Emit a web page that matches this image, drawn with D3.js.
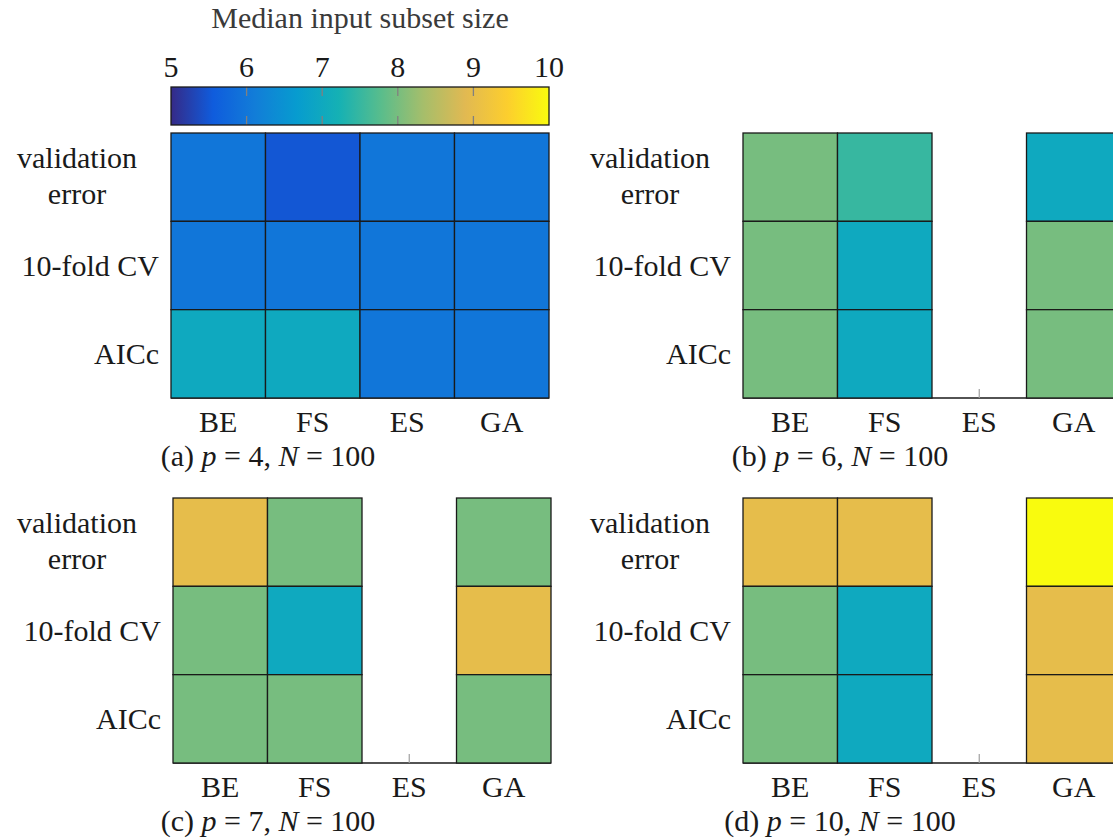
<!DOCTYPE html>
<html>
<head>
<meta charset="utf-8">
<script src="https://cdn.jsdelivr.net/npm/d3@7"></script>
<style>
  html, body { margin: 0; padding: 0; background: #fff; }
</style>
</head>
<body>
<svg id="chart" width="1113" height="840"></svg>
<script>
// Selection methods (columns) and model-selection criteria (rows)
const methods = ["BE", "FS", "ES", "GA"];
const criteria = ["validation error", "10-fold CV", "AICc"];

// Median input subset size, one row per criterion, one column per method (null = not run)
const sizesA = [[6, 5.5, 6, 6], [6, 6, 6, 6], [7, 7, 6, 6]];
const sizesB = [[8, 7.5, null, 7], [8, 7, null, 8], [8, 7, null, 8]];
const sizesC = [[9, 8, null, 8], [8, 7, null, 9], [8, 8, null, 8]];
const sizesD = [[9, 9, null, 10], [8, 7, null, 9], [8, 7, null, 9]];

// Panel captions
const captionLetters = ["a", "b", "c", "d"];
const captionP = [4, 6, 7, 10];
const captionN = [100, 100, 100, 100];

// Colour bar
const colorTicks = [5, 6, 7, 8, 9, 10];
const colorTitle = "Median input subset size";

// parula colour map stops
const parulaStops = ["#352a87", "#0f5cdd", "#127dd8", "#079ccf", "#15b1b4",
                     "#59bd8c", "#a5be6b", "#e1b952", "#fcce2e", "#f9fb0e"];

const FONT = 30;
const FAMILY = "'Liberation Serif', 'DejaVu Serif', 'Noto Serif', Tinos, 'Nimbus Roman', 'Nimbus Roman No9 L', FreeSerif, Times, serif";
const svg = d3.select("#chart")
  .attr("font-family", FAMILY)
  .style("font-family", FAMILY);

const color = d3.scaleLinear()
  .domain(parulaStops.map((_, i) => 5 + 5 * i / (parulaStops.length - 1)))
  .range(parulaStops)
  .interpolate(d3.interpolateRgb);

// ---- colour bar ----
const cb = { x0: 171, x1: 549, y0: 87, y1: 125 };
const cbScale = d3.scaleLinear().domain([5, 10]).range([cb.x0, cb.x1]);
const defs = svg.append("defs");
const grad = defs.append("linearGradient").attr("id", "parula")
  .attr("x1", "0%").attr("x2", "100%").attr("y1", "0%").attr("y2", "0%");
parulaStops.forEach((c, i) => {
  grad.append("stop").attr("offset", (100 * i / (parulaStops.length - 1)) + "%").attr("stop-color", c);
});
svg.append("rect")
  .attr("x", cb.x0).attr("y", cb.y0)
  .attr("width", cb.x1 - cb.x0).attr("height", cb.y1 - cb.y0)
  .attr("fill", "url(#parula)");
const cbTickG = svg.append("g");
colorTicks.slice(1, -1).forEach(t => {
  const x = cbScale(t);
  cbTickG.append("line").attr("x1", x).attr("x2", x).attr("y1", cb.y0).attr("y2", cb.y0 + 9)
    .attr("stroke", "#808080").attr("stroke-width", 1.3);
  cbTickG.append("line").attr("x1", x).attr("x2", x).attr("y1", cb.y1 - 9).attr("y2", cb.y1)
    .attr("stroke", "#808080").attr("stroke-width", 1.3);
});
svg.append("rect")
  .attr("x", cb.x0).attr("y", cb.y0)
  .attr("width", cb.x1 - cb.x0).attr("height", cb.y1 - cb.y0)
  .attr("fill", "none").attr("stroke", "#1a1a1a").attr("stroke-width", 1.3);
svg.selectAll("text.cbtick").data(colorTicks).join("text")
  .attr("class", "cbtick")
  .attr("x", d => cbScale(d)).attr("y", 77)
  .attr("text-anchor", "middle").attr("font-size", FONT)
  .attr("fill", "#1a1a1a")
  .text(d => d);
svg.append("text")
  .attr("x", (cb.x0 + cb.x1) / 2).attr("y", 28)
  .attr("text-anchor", "middle").attr("font-size", FONT)
  .attr("fill", "#3a3a3a")
  .text(colorTitle);

// ---- heat-map panels ----
const panels = [
  { data: sizesA, left: 171, top: 133, labelX: 77, capX: 268 },
  { data: sizesB, left: 743, top: 133, labelX: 650, capX: 840 },
  { data: sizesC, left: 173, top: 498, labelX: 77, capX: 268 },
  { data: sizesD, left: 743, top: 498, labelX: 650, capX: 840 }
];
const W = 378, H = 265;

panels.forEach((p, pi) => {
  const g = svg.append("g").attr("fill", "#1a1a1a");
  const x = d3.scaleBand().domain(methods).range([p.left, p.left + W]);
  const y = d3.scaleBand().domain(criteria).range([p.top, p.top + H]);
  const bottom = p.top + H;

  // x axis: baseline and inward ticks
  g.append("line").attr("x1", p.left).attr("x2", p.left + W)
    .attr("y1", bottom).attr("y2", bottom)
    .attr("stroke", "#1a1a1a").attr("stroke-width", 1.3);
  g.selectAll("line.tick").data(methods).join("line")
    .attr("class", "tick")
    .attr("x1", d => x(d) + x.bandwidth() / 2).attr("x2", d => x(d) + x.bandwidth() / 2)
    .attr("y1", bottom).attr("y2", bottom - 9)
    .attr("stroke", "#a0a0a0").attr("stroke-width", 1.2);

  // cells
  const cells = [];
  p.data.forEach((row, ri) => row.forEach((v, ci) => {
    if (v !== null) cells.push({ r: criteria[ri], c: methods[ci], v });
  }));
  g.selectAll("rect.cell").data(cells).join("rect")
    .attr("class", "cell")
    .attr("x", d => x(d.c)).attr("y", d => y(d.r))
    .attr("width", x.bandwidth()).attr("height", y.bandwidth())
    .attr("fill", d => color(d.v))
    .attr("stroke", "#1a1a1a").attr("stroke-width", 1.3);

  // x tick labels
  g.selectAll("text.xl").data(methods).join("text")
    .attr("class", "xl")
    .attr("x", d => x(d) + x.bandwidth() / 2).attr("y", bottom + 34)
    .attr("text-anchor", "middle").attr("font-size", FONT)
    .text(d => d);

  // row labels
  criteria.forEach(c => {
    const cy = y(c) + y.bandwidth() / 2;
    if (c === "validation error") {
      const parts = c.split(" ");
      g.append("text").attr("x", p.labelX).attr("y", cy - 9)
        .attr("text-anchor", "middle").attr("font-size", FONT).text(parts[0]);
      g.append("text").attr("x", p.labelX).attr("y", cy + 27)
        .attr("text-anchor", "middle").attr("font-size", FONT).text(parts[1]);
    } else {
      g.append("text").attr("x", p.left - 12).attr("y", cy + 10)
        .attr("text-anchor", "end").attr("font-size", FONT).text(c);
    }
  });

  // caption
  const cap = g.append("text").attr("x", p.capX).attr("y", bottom + 68)
    .attr("text-anchor", "middle").attr("font-size", FONT);
  cap.append("tspan").text("(" + captionLetters[pi] + ") ");
  cap.append("tspan").attr("font-style", "italic").text("p");
  cap.append("tspan").text(" = " + captionP[pi] + ", ");
  cap.append("tspan").attr("font-style", "italic").text("N");
  cap.append("tspan").text(" = " + captionN[pi]);
});
</script>
</body>
</html>
